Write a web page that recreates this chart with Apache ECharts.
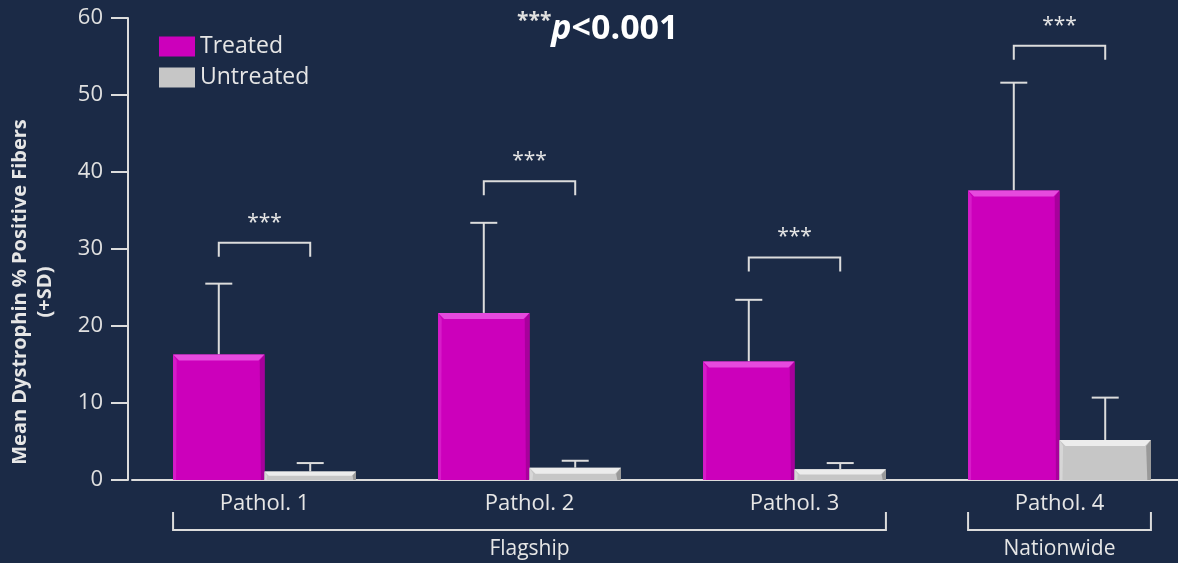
<!DOCTYPE html>
<html>
<head>
<meta charset="utf-8">
<script src="https://cdn.jsdelivr.net/npm/echarts@6/dist/echarts.min.js"></script>
<style>
  html, body { margin: 0; padding: 0; background: #1b2a46; }
  #chart { width: 1178px; height: 563px; }
</style>
</head>
<body>
<div id="chart"></div>
<script>
const categories = ['Pathol. 1', 'Pathol. 2', 'Pathol. 3', 'Pathol. 4']
const treated = [16.3, 21.7, 15.4, 37.6]
const treatedSD = [9.2, 11.7, 8.0, 14.0]
const untreated = [1.1, 1.6, 1.4, 5.2]
const untreatedSD = [1.1, 0.9, 0.8, 5.5]
// significance bracket heights (data units)
const sigLevel = [30.8, 38.8, 28.9, 56.4]
const sigLabel = ['***', '***', '***', '***']
// category groups under the axis
const groupNames = ['Flagship', 'Nationwide']
const groupStart = [0, 3]
const groupEnd = [2, 3]

const FONT = '"Open Sans", Lato, sans-serif'
const LINE = '#dcdcdc'
const BAR_FRAC = 0.345

const magenta = { main: '#cc00bb', top: '#e64ade', left: '#d61cc8', right: '#a8009c' }
const grey = { main: '#c6c6c6', top: '#ececec', left: '#d6d6d6', right: '#999999' }

function makeBarRender (side, c) {
  return function (params, api) {
    const idx = api.value(0)
    const val = api.value(1)
    const sd = api.value(2)
    const top = api.coord([idx, val])
    const base = api.coord([idx, 0])
    const errTop = api.coord([idx, val + sd])
    const w = api.size([1, 0])[0] * BAR_FRAC
    const x0 = side < 0 ? top[0] - w : top[0]
    const x1 = x0 + w
    const y0 = top[1]
    const y1 = base[1]
    const b = Math.min(6, (y1 - y0) / 2)
    const cx = (x0 + x1) / 2
    return {
      type: 'group',
      children: [
        { type: 'line', shape: { x1: cx, y1: y0, x2: cx, y2: errTop[1] }, style: { stroke: LINE, lineWidth: 2 } },
        { type: 'line', shape: { x1: cx - 13.5, y1: errTop[1], x2: cx + 13.5, y2: errTop[1] }, style: { stroke: LINE, lineWidth: 2 } },
        { type: 'rect', shape: { x: x0, y: y0, width: w, height: y1 - y0 }, style: { fill: c.main } },
        { type: 'polygon', shape: { points: [[x0, y0], [x1, y0], [x1 - b, y0 + b], [x0 + b, y0 + b]] }, style: { fill: c.top } },
        { type: 'polygon', shape: { points: [[x1, y0], [x1, y1], [x1 - b * 0.6, y1], [x1 - b * 0.8, y0 + b]] }, style: { fill: c.right } },
        { type: 'polygon', shape: { points: [[x0, y0], [x0 + b * 0.6, y0 + b], [x0 + b * 0.5, y1], [x0, y1]] }, style: { fill: c.left } }
      ]
    }
  }
}

function renderSig (params, api) {
  const idx = api.value(0)
  const p = api.coord([idx, api.value(1)])
  const w = api.size([1, 0])[0] * BAR_FRAC
  const xl = p[0] - w / 2
  const xr = p[0] + w / 2
  return {
    type: 'group',
    children: [
      { type: 'polyline', shape: { points: [[xl, p[1] + 14], [xl, p[1]], [xr, p[1]], [xr, p[1] + 14]] }, style: { stroke: LINE, lineWidth: 2, fill: null } },
      { type: 'text', x: p[0], y: p[1] - 20, style: { text: sigLabel[params.dataIndex], fill: '#e6e6e6', fontSize: 21, fontFamily: FONT, align: 'center', verticalAlign: 'middle' } }
    ]
  }
}

function renderGroup (params, api) {
  const a = api.coord([api.value(0), 0])
  const e = api.coord([api.value(1), 0])
  const w = api.size([1, 0])[0] * BAR_FRAC
  const xl = a[0] - w
  const xr = e[0] + w
  const y = a[1]
  return {
    type: 'group',
    children: [
      { type: 'polyline', shape: { points: [[xl, y + 32], [xl, y + 50], [xr, y + 50], [xr, y + 32]] }, style: { stroke: LINE, lineWidth: 2, fill: null } },
      { type: 'text', x: (xl + xr) / 2, y: y + 69, style: { text: groupNames[params.dataIndex], fill: '#e6e6e6', fontSize: 21, fontFamily: FONT, align: 'center', verticalAlign: 'middle' } }
    ]
  }
}

const chart = echarts.init(document.getElementById('chart'))
const option = {
  backgroundColor: '#1b2a46',
  animation: false,
  title: {
    text: '{s|***}{p|p}{t|<0.001}',
    left: 512,
    top: 6,
    textStyle: {
      rich: {
        s: { fontSize: 21, color: '#e0e0e0', fontFamily: FONT, verticalAlign: 'top', padding: [0, 0, 16, 0] },
        p: { fontSize: 34, fontStyle: 'italic', fontWeight: 'bold', color: '#ffffff', fontFamily: FONT },
        t: { fontSize: 34, fontWeight: 'bold', color: '#ffffff', fontFamily: FONT }
      }
    }
  },
  legend: {
    orient: 'vertical',
    left: 154,
    top: 30,
    itemWidth: 36,
    itemHeight: 20,
    itemGap: 8,
    textStyle: { color: '#e6e6e6', fontSize: 23, fontFamily: FONT },
    data: [{ name: 'Treated', icon: 'rect' }, { name: 'Untreated', icon: 'rect' }]
  },
  grid: { left: 132, top: 18, bottom: 83, width: 1060, outerBoundsMode: 'none' },
  xAxis: {
    type: 'category',
    data: categories,
    axisLine: { lineStyle: { color: LINE, width: 2 } },
    axisTick: { show: false },
    axisLabel: { color: '#e6e6e6', fontSize: 22, fontFamily: FONT, margin: 13 }
  },
  yAxis: {
    type: 'value',
    min: 0,
    max: 60,
    interval: 10,
    offset: 4,
    name: 'Mean Dystrophin % Positive Fibers\n(+SD)',
    nameLocation: 'middle',
    nameGap: 70,
    nameTextStyle: { color: '#e6e6e6', fontSize: 20, fontWeight: 'bold', fontFamily: FONT, lineHeight: 25, padding: [0, 86, 0, 0] },
    axisLine: { show: true, lineStyle: { color: LINE, width: 2 } },
    axisTick: { show: true, length: 17, lineStyle: { color: LINE, width: 2 } },
    axisLabel: { color: '#e0e0e0', fontSize: 22, fontFamily: FONT, margin: 25 },
    splitLine: { show: false }
  },
  series: [
    {
      name: 'Treated',
      type: 'custom',
      itemStyle: { color: magenta.main },
      renderItem: makeBarRender(-1, magenta),
      encode: { x: 0, y: 1 },
      data: treated.map((v, i) => [i, v, treatedSD[i]])
    },
    {
      name: 'Untreated',
      type: 'custom',
      itemStyle: { color: grey.main },
      renderItem: makeBarRender(1, grey),
      encode: { x: 0, y: 1 },
      data: untreated.map((v, i) => [i, v, untreatedSD[i]])
    },
    {
      name: 'sig',
      type: 'custom',
      silent: true,
      renderItem: renderSig,
      encode: { x: 0, y: 1 },
      data: sigLevel.map((v, i) => [i, v])
    },
    {
      name: 'groups',
      type: 'custom',
      silent: true,
      clip: false,
      renderItem: renderGroup,
      encode: { x: [0, 1], y: 2 },
      data: groupStart.map((s, i) => [s, groupEnd[i], 0])
    }
  ]
}
chart.setOption(option)
</script>
</body>
</html>
